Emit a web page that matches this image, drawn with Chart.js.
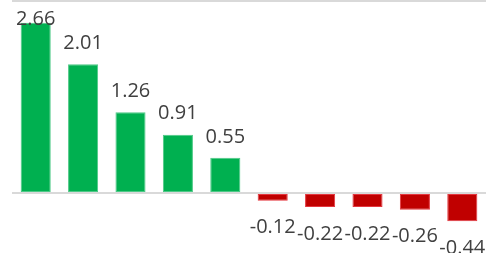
<!DOCTYPE html>
<html>
<head>
<meta charset="utf-8">
<script src="https://cdn.jsdelivr.net/npm/chart.js@4.4.1/dist/chart.umd.min.js"></script>
<style>
  html, body { margin: 0; padding: 0; background: #fff; overflow: hidden; }
  #wrap { width: 490px; height: 253px; position: relative; }
</style>
</head>
<body>
<div id="wrap"><canvas id="barChart"></canvas></div>
<script>
// chart data
const categories = ['A', 'B', 'C', 'D', 'E', 'F', 'G', 'H', 'I', 'J'];
const values = [2.66, 2.01, 1.26, 0.91, 0.55, -0.12, -0.22, -0.22, -0.26, -0.44];
const gridValues = [0, 3];

const upColor = '#00b050';
const upBorder = '#4cc986';
const downColor = '#c00000';
const downBorder = '#e4373f';

// Draws the value labels above / below each bar
const valueLabels = {
    id: 'valueLabels',
    afterDatasetsDraw(chart) {
        const ctx = chart.ctx;
        const meta = chart.getDatasetMeta(0);
        ctx.save();
        ctx.font = '20px "Open Sans"';
        ctx.fillStyle = '#404040';
        ctx.textAlign = 'center';
        meta.data.forEach(function (bar, i) {
            const v = values[i];
            let y;
            if (v >= 0) {
                ctx.textBaseline = 'bottom';
                y = Math.max(bar.y - 11, 29);
            } else {
                ctx.textBaseline = 'top';
                y = bar.y + 17;
            }
            ctx.fillText(v.toFixed(2), bar.x, y);
        });
        ctx.restore();
    }
};

const barCtx = document.getElementById('barChart').getContext('2d');
const barChart = new Chart(barCtx, {
    type: 'bar',
    data: {
        labels: categories,
        datasets: [{
            data: values,
            backgroundColor: values.map(v => v >= 0 ? upColor : downColor),
            borderColor: values.map(v => v >= 0 ? upBorder : downBorder),
            borderWidth: 1,
            borderSkipped: false,
            barPercentage: 0.635,
            categoryPercentage: 1
        }]
    },
    options: {
        responsive: true,
        maintainAspectRatio: false,
        animation: false,
        layout: { padding: { top: 1, left: 12, right: 4, bottom: 0 } },
        plugins: {
            legend: { display: false },
            tooltip: { enabled: false }
        },
        scales: {
            x: { display: false },
            y: {
                min: -0.9375,
                max: 3,
                afterBuildTicks: function (scale) {
                    scale.ticks = gridValues.map(v => ({ value: v }));
                },
                ticks: { display: false },
                border: { display: false },
                grid: {
                    color: '#d9d9d9',
                    lineWidth: 2,
                    drawTicks: false
                }
            }
        }
    },
    plugins: [valueLabels]
});
</script>
</body>
</html>
